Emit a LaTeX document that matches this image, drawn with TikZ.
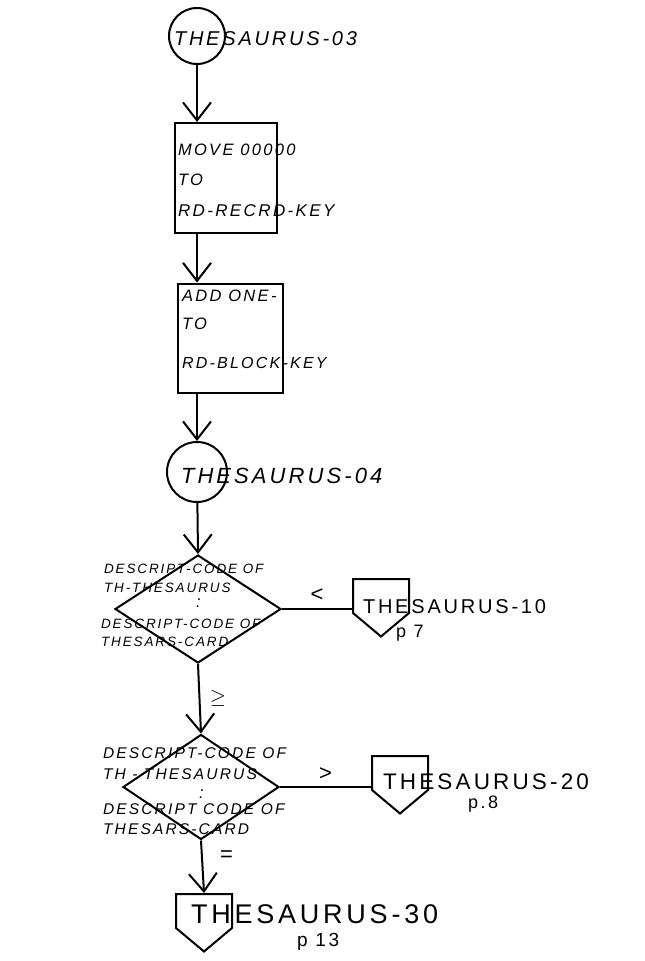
\documentclass[tikz,border=0pt]{standalone}
\usepackage{fontspec}
\setmainfont{Liberation Sans}
\newfontfamily\handfont[LetterSpace=14]{Liberation Sans}
\usetikzlibrary{arrows.meta,shapes.geometric,shapes.symbols}

\begin{document}
\begin{tikzpicture}[x=1pt, y=-1pt, line width=2pt,
  flow/.style={-{Straight Barb[length=18pt, width=28pt]}},
  proc/.style={draw, rectangle, inner sep=0pt},
  conn/.style={draw, circle, inner sep=0pt, minimum size=56pt},
  test/.style={draw, diamond, inner sep=0pt},
  offpage/.style={draw, signal, signal to=south, signal from=nowhere,
    signal pointer angle=100, inner sep=0pt, minimum width=56pt,
    minimum height=34pt, anchor=north},
  hand/.style={anchor=base west, inner sep=0pt,
    font=\handfont\itshape\fontsize{16.5}{18}\selectfont},
  tag/.style={anchor=base west, inner sep=0pt,
    font=\handfont\fontsize{20}{22}\selectfont},
]
\useasboundingbox (0,0) rectangle (645,961);

% Entry connector
\node[conn] (c03) at (197,36) {};
\node[hand, font=\handfont\itshape\fontsize{20}{22}\selectfont] (t03) at (173,45) {THESAURUS-03};

% Move / add boxes
\node[proc, minimum width=102pt, minimum height=110pt] (b1) at (226,178) {};
\node[hand] (b1a) at (177,155) {MOVE 00000};
\node[hand] (b1b) at (177,185) {TO};
\node[hand, font=\handfont\itshape\fontsize{17}{19}\selectfont] (b1c) at (177,216) {RD-RECRD-KEY};

\node[proc, minimum width=105pt, minimum height=109pt] (b2) at (230,338) {};
\node[hand] (b2a) at (181,301) {ADD ONE-};
\node[hand] (b2b) at (181,329) {TO};
\node[hand, font=\handfont\itshape\fontsize{16}{18}\selectfont] (b2c) at (181,368) {RD-BLOCK-KEY};

% Second connector
\node[conn, minimum size=60pt] (c04) at (197,472) {};
\node[hand, font=\handfont\itshape\fontsize{22}{24}\selectfont] (t04) at (180,483) {THESAURUS-04};

% First test
\node[test, minimum width=166pt, minimum height=108pt] (d1) at (198,609) {};
\node[hand, font=\handfont\itshape\fontsize{13.5}{15}\selectfont] (d1a) at (103,573) {DESCRIPT-CODE OF};
\node[hand, font=\handfont\itshape\fontsize{13.5}{15}\selectfont] (d1b) at (103,592) {TH-THESAURUS};
\node[hand] (d1c) at (195,607) {:};
\node[hand, font=\handfont\itshape\fontsize{13.5}{15}\selectfont] (d1d) at (100,628) {DESCRIPT-CODE OF};
\node[hand, font=\handfont\itshape\fontsize{13.5}{15}\selectfont] (d1e) at (100,646) {THESARS-CARD};

% Second test
\node[test, minimum width=156pt, minimum height=105pt] (d2) at (201,787) {};
\node[hand, font=\handfont\itshape\fontsize{15.5}{17}\selectfont] (d2a) at (102,758) {DESCRIPT-CODE OF};
\node[hand, font=\handfont\itshape\fontsize{15.5}{17}\selectfont] (d2b) at (102,779) {TH - THESAURUS};
\node[hand] (d2c) at (198,798) {:};
\node[hand, font=\handfont\itshape\fontsize{15.5}{17}\selectfont] (d2d) at (102,814) {DESCRIPT CODE OF};
\node[hand, font=\handfont\itshape\fontsize{15.5}{17}\selectfont] (d2e) at (102,834) {THESARS-CARD};

% Off-page connectors
\node[offpage] (p10) at (381,578) {};
\node[tag] (t10) at (362,613) {THESAURUS-10};
\node[tag, font=\handfont\fontsize{18}{20}\selectfont] (t10p) at (395,637) {p 7};

\node[offpage] (p20) at (400,755) {};
\node[tag, font=\handfont\fontsize{22.5}{24}\selectfont] (t20) at (382,789) {THESAURUS-20};
\node[tag, font=\handfont\fontsize{18}{20}\selectfont] (t20p) at (467,808) {p.8};

\node[offpage] (p30) at (204,893) {};
\node[tag, font=\handfont\fontsize{27}{29}\selectfont] (t30) at (190,923) {THESAURUS-30};
\node[tag, font=\handfont\fontsize{19}{21}\selectfont] (t30p) at (296,946) {p 13};

% Flow lines
\draw[flow] (c03) -- (b1.north -| c03);
\draw[flow] (b1.south -| c03) -- (b2.north -| c03);
\draw[flow] (b2.south -| c03) -- (c04);
\draw[flow] (c04) -- (d1.north);
\draw (d1.east) -- (d1.east -| p10.west)
  node[midway, above=3pt, font=\fontsize{22}{24}\selectfont] (lt) {<};
\draw[flow] (d1.south) -- (d2.north)
  node[midway, right=6pt, font=\fontsize{20}{22}\selectfont] (ge) {$\geq$};
\draw (d2.east) -- (d2.east -| p20.west)
  node[midway, above=2pt, font=\fontsize{22}{24}\selectfont] (gt) {>};
\draw[flow] (d2.south) -- (p30.north)
  node[pos=0.3, right=14pt, font=\fontsize{22}{24}\selectfont] (eq) {=};

\end{tikzpicture}
\end{document}
